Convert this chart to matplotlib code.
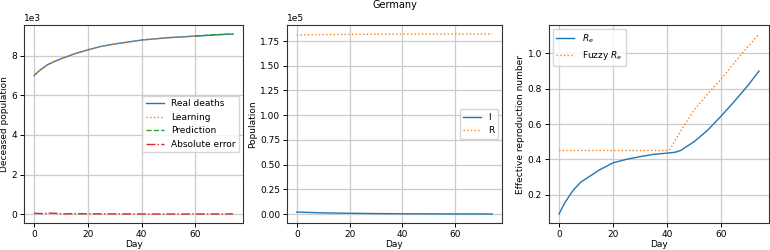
import matplotlib
matplotlib.use("Agg")
import matplotlib.pyplot as plt

plt.rcParams['font.size'] = 6.5
plt.rcParams['font.family'] = ['DejaVu Sans']

# deceased population
days_deaths = [0, 2, 5, 8, 10, 15, 20, 25, 30, 35, 40, 45, 50, 55, 60, 65, 70, 74]
real_deaths = [7000, 7250, 7550, 7740, 7850, 8100, 8300, 8480, 8600, 8700, 8800, 8860, 8920, 8960, 9000, 9040, 9080, 9100]
days_learn = [0, 2, 5, 8, 10, 15, 20, 25, 30, 35, 40, 45, 50, 55, 60]
learning = [7000, 7250, 7550, 7740, 7850, 8100, 8300, 8480, 8600, 8700, 8800, 8860, 8920, 8960, 9000]
days_pred = [60, 65, 70, 74]
prediction = [9000, 9045, 9085, 9105]
days_err = [0, 3, 6, 9, 12, 15, 20, 30, 40, 50, 60, 65, 70, 74]
abs_error = [40, 25, 50, 30, 10, 25, 15, 10, 5, 5, 5, 10, 5, 10]

# compartments
days_ir = [0, 5, 10, 20, 30, 40, 50, 60, 74]
infected = [2000, 1600, 1200, 800, 500, 300, 200, 120, 60]
recovered = [181000, 181300, 181500, 181700, 181850, 181950, 182000, 182050, 182100]

# reproduction number
days_re = [0, 2, 5, 8, 10, 15, 20, 25, 30, 35, 40, 43, 45, 50, 55, 60, 65, 70, 74]
re = [0.09, 0.15, 0.22, 0.27, 0.29, 0.34, 0.38, 0.40, 0.415, 0.428, 0.435, 0.44, 0.45, 0.50, 0.565, 0.645, 0.73, 0.82, 0.90]
days_fuzzy = [0, 10, 20, 30, 40, 41, 45, 50, 55, 60, 65, 70, 74]
fuzzy_re = [0.45, 0.45, 0.45, 0.45, 0.45, 0.455, 0.56, 0.68, 0.77, 0.855, 0.95, 1.04, 1.11]

fig = plt.figure(figsize=(7.7, 2.5), dpi=100)
ax1 = fig.add_axes([0.0312, 0.108, 0.2844, 0.792])
ax2 = fig.add_axes([0.3727, 0.108, 0.2792, 0.792])
ax3 = fig.add_axes([0.713, 0.108, 0.2857, 0.792])

ax1.plot(days_deaths, real_deaths, '-', color='C0', lw=1, label='Real deaths')
ax1.plot(days_learn, learning, ':', color='C1', lw=1, label='Learning')
ax1.plot(days_pred, prediction, '--', color='C2', lw=1, label='Prediction')
ax1.plot(days_err, abs_error, '-.', color='C3', lw=1, label='Absolute error')
ax1.set_ylabel('Deceased population', labelpad=2)
ax1.ticklabel_format(axis='y', style='sci', scilimits=(3, 3))
ax1.set_yticks([0, 2000, 4000, 6000, 8000])
ax1.legend(loc='center right', borderaxespad=0.4)

ax2.plot(days_ir, infected, '-', color='C0', lw=1, label='I')
ax2.plot(days_ir, recovered, ':', color='C1', lw=1, label='R')
ax2.set_ylabel('Population', labelpad=2)
ax2.ticklabel_format(axis='y', style='sci', scilimits=(5, 5))
ax2.set_yticks([0, 25000, 50000, 75000, 100000, 125000, 150000, 175000])
ax2.legend(loc='center right', borderaxespad=0.4)
ax2.set_title('Germany', fontsize=7, pad=12)

ax3.plot(days_re, re, '-', color='C0', lw=1, label='$R_e$')
ax3.plot(days_fuzzy, fuzzy_re, ':', color='C1', lw=1, label='Fuzzy $R_e$')
ax3.set_ylabel('Effective reproduction number', labelpad=2)
ax3.set_yticks([0.2, 0.4, 0.6, 0.8, 1.0])
ax3.legend(loc='upper left', borderaxespad=0.4)

for ax in (ax1, ax2, ax3):
    ax.set_xlabel('Day', labelpad=1)
    ax.set_xticks([0, 20, 40, 60])
    ax.set_xlim(-3.7, 77.7)
    ax.grid(True, color='#cccccc', lw=0.9)
    ax.tick_params(length=3, width=0.7, pad=2)
    ax.yaxis.get_offset_text().set_fontsize(6.5)
    for s in ax.spines.values():
        s.set_color('#333333')
        s.set_linewidth(0.8)

fig.savefig('out.png', dpi=100)
